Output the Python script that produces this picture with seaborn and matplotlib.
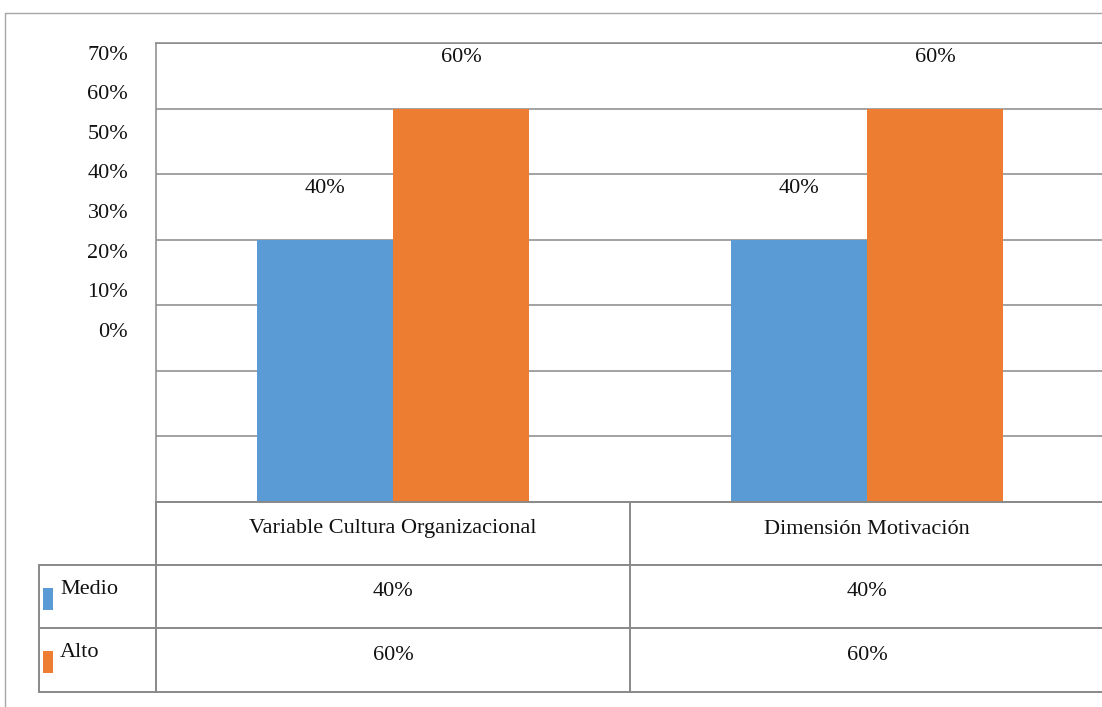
import matplotlib
matplotlib.use("Agg")
import matplotlib.pyplot as plt
from matplotlib.lines import Line2D
from matplotlib.patches import Rectangle
import seaborn as sns
import pandas as pd

# ---- data ----
categories = ["Variable Cultura Organizacional", "Dimensión Motivación"]
niveles = ["Medio", "Alto"]
medio = [40, 40]
alto = [60, 60]
ytick_values = [0, 10, 20, 30, 40, 50, 60, 70]
ytick_labels = ["0%", "10%", "20%", "30%", "40%", "50%", "60%", "70%"]

colors = ["#5B9BD5", "#ED7D31"]
grid_col = "#898989"
FONT = "Liberation Serif"
FS = 16

sns.set_theme(style="white")
plt.rcParams["font.family"] = [FONT, "DejaVu Serif"]

W, H = 1102, 707
fig = plt.figure(figsize=(W / 100, H / 100), dpi=100)

def fx(x):
    return x / W

def fy(y):
    return 1 - y / H

# main axes: x 156..1104 px, y 43..502 px
ax = fig.add_axes([fx(156), fy(502), (1104 - 156) / W, (502 - 43) / H])

df = pd.DataFrame({
    "cat": categories * 2,
    "nivel": [niveles[0]] * 2 + [niveles[1]] * 2,
    "val": medio + alto,
})
sns.barplot(data=df, x="cat", y="val", hue="nivel", hue_order=niveles,
            palette=colors, width=0.574, saturation=1, gap=0,
            edgecolor="none", linewidth=0, ax=ax, zorder=3)
ax.set_ylim(0, 70)
ax.set_xlim(-0.5, 1.5)
ax.set_yticks(ytick_values)
ax.set_yticklabels([])
ax.tick_params(axis="y", length=0)
ax.set_xticks([])
ax.set_xlabel("")
ax.set_ylabel("")
leg = ax.get_legend()
if leg is not None:
    leg.remove()
ax.yaxis.grid(True, color=grid_col, linewidth=1.1, zorder=0)
ax.set_axisbelow(True)
for s in ["left", "top"]:
    ax.spines[s].set_color(grid_col)
    ax.spines[s].set_linewidth(1.1)
ax.spines["right"].set_visible(False)
ax.spines["bottom"].set_visible(False)

# data labels
vals_by_hue = [medio, alto]
for cont, vals in zip(ax.containers, vals_by_hue):
    for bar, v in zip(cont, vals):
        ax.annotate(f"{v}%", (bar.get_x() + bar.get_width() / 2, bar.get_height()),
                    xytext=(0, 37), textcoords="offset points",
                    ha="center", va="center", fontsize=FS, color="#111111",
                    family=FONT)

# y tick labels (shifted, as in the reference) via a twin axis
ax2 = ax.twinx()
ax2.set_ylim(-43.39, 72.40)
ax2.yaxis.set_ticks_position("left")
ax2.yaxis.set_label_position("left")
ax2.set_yticks(ytick_values)
ax2.set_yticklabels(ytick_labels, fontsize=FS, color="#111111", family=FONT)
ax2.tick_params(axis="y", length=0, pad=20)
ax2.grid(False)
for s in ax2.spines.values():
    s.set_visible(False)

# outer border (left and top)
fig.add_artist(Line2D([fx(5), fx(5)], [fy(13), fy(707)], color="#a6a6a6", lw=1.0))
fig.add_artist(Line2D([fx(5), fx(1102)], [fy(13), fy(13)], color="#a6a6a6", lw=1.0))

# data table
tlw = 1.4
def hline(y, x0, x1):
    fig.add_artist(Line2D([fx(x0), fx(x1)], [fy(y), fy(y)], color=grid_col, lw=tlw))

def vline(x, y0, y1):
    fig.add_artist(Line2D([fx(x), fx(x)], [fy(y0), fy(y1)], color=grid_col, lw=tlw))

col_edges = [156, 630, 1104]
row_edges = [502, 565, 628, 692]
hline(502, 156, 1104)
hline(565, 39, 1104)
hline(628, 39, 1104)
hline(692, 39, 1104)
vline(39, 565, 692)
vline(156, 502, 692)
vline(630, 502, 692)

for i, cat in enumerate(categories):
    cx = (col_edges[i] + col_edges[i + 1]) / 2
    cy = (row_edges[0] + row_edges[1]) / 2
    fig.text(fx(cx), fy(cy), cat, ha="center", va="baseline", fontsize=FS,
             color="#111111", family=FONT)

for r, (name, vals) in enumerate(zip(niveles, vals_by_hue)):
    y0, y1 = row_edges[r + 1], row_edges[r + 2]
    cy = (y0 + y1) / 2
    fig.text(fx(60), fy(cy - 3), name, ha="left", va="baseline", fontsize=FS,
             color="#111111", family=FONT)
    fig.add_artist(Rectangle((fx(43), fy(y0 + 45)), 10 / W, 22 / H,
                             transform=fig.transFigure, facecolor=colors[r],
                             edgecolor="none"))
    for i, v in enumerate(vals):
        cx = (col_edges[i] + col_edges[i + 1]) / 2
        fig.text(fx(cx), fy(cy), f"{v}%", ha="center", va="baseline",
                 fontsize=FS, color="#111111", family=FONT)

fig.savefig("out.png", dpi=100, facecolor="white")
